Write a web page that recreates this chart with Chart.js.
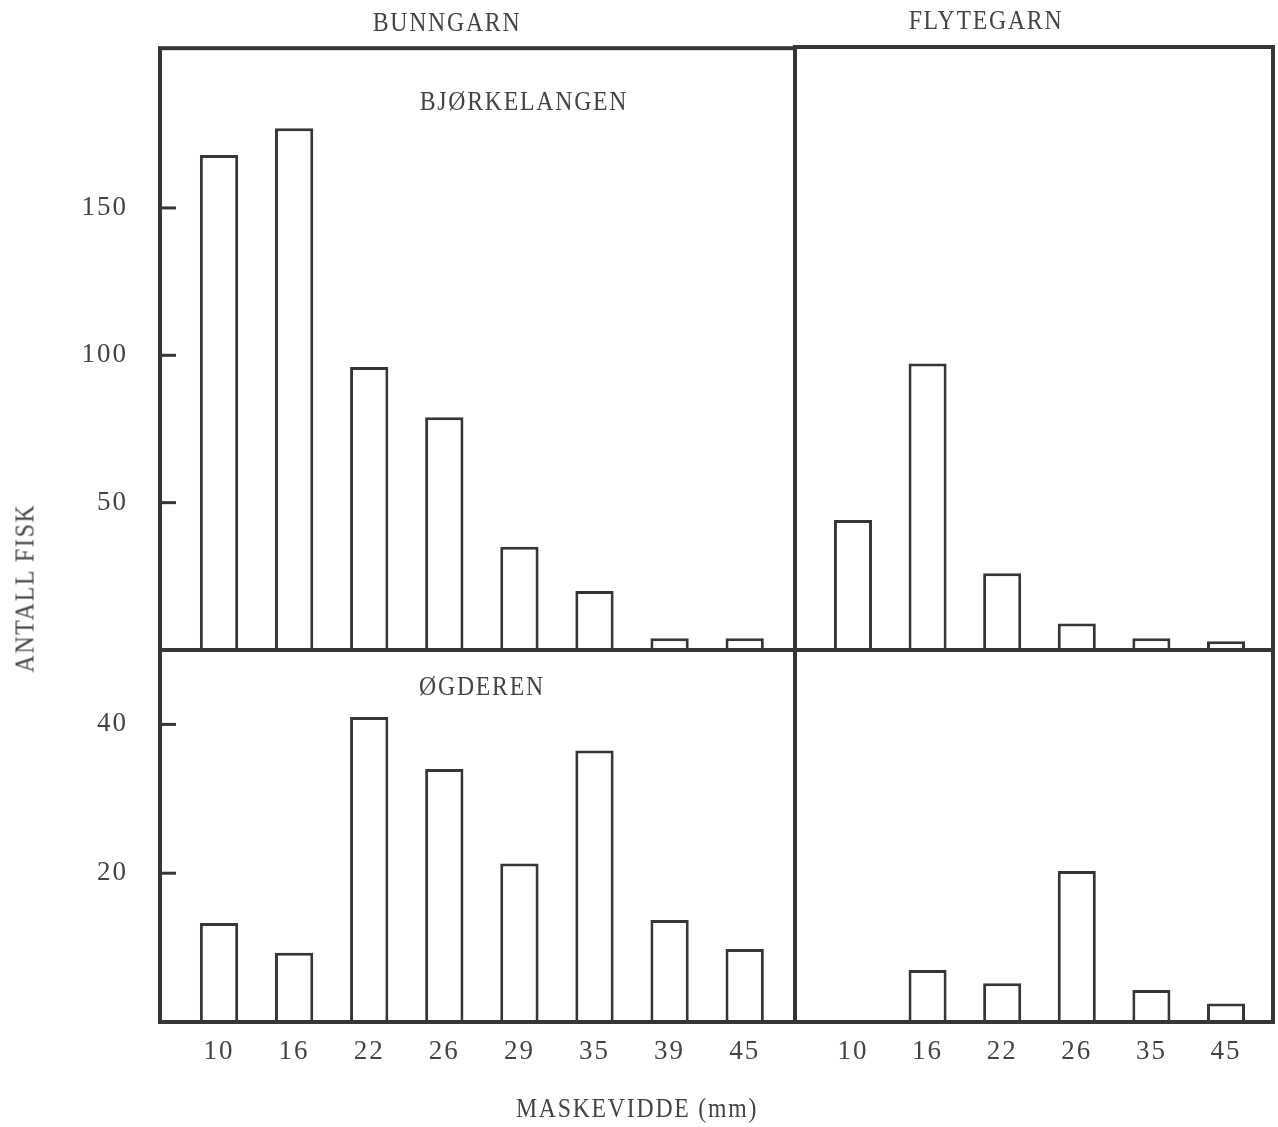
<!DOCTYPE html>
<html>
<head>
<meta charset="utf-8">
<script src="https://cdn.jsdelivr.net/npm/chart.js@4"></script>
<style>
body { margin: 0; background: #fff; }
#wrap { position: relative; width: 1278px; height: 1127px; overflow: hidden; background: #fff; }
canvas { position: absolute; left: 0; top: 0; }
.lbl {
    position: absolute; font-family: "Liberation Serif", serif; font-size: 27px;
    line-height: 1; letter-spacing: 2px; color: #444; white-space: nowrap;
    transform: translateX(-50%) scaleX(0.88);
}
</style>
</head>
<body>
<div id="wrap">
    <canvas id="tl" width="1278" height="1127"></canvas>
    <canvas id="tr" width="1278" height="1127"></canvas>
    <canvas id="bl" width="1278" height="1127"></canvas>
    <canvas id="br" width="1278" height="1127"></canvas>
    <div class="lbl" style="left:447px;top:9px">BUNNGARN</div>
    <div class="lbl" style="left:986px;top:7px">FLYTEGARN</div>
    <div class="lbl" style="left:524px;top:88px">BJØRKELANGEN</div>
    <div class="lbl" style="left:482px;top:673px">ØGDEREN</div>
    <div class="lbl" style="left:637px;top:1095px">MASKEVIDDE (mm)</div>
    <div class="lbl" style="left:25px;top:588px;transform:translate(-50%,-50%) rotate(-90deg) scaleX(0.88)">ANTALL FISK</div>
</div>
<script>
// mesh sizes (mm)
const bunnMesh = ["10", "16", "22", "26", "29", "35", "39", "45"];
const flyteMesh = ["10", "16", "22", "26", "35", "45"];

// number of fish
const bjorkBunn = [168, 177, 96, 79, 35, 20, 4, 4];
const bjorkFlyte = [44, 97, 26, 9, 4, 3];
const ogdBunn = [13.3, 9.3, 41, 34, 21.3, 36.5, 13.7, 9.8];
const ogdFlyte = [0, 7, 5.2, 20.3, 4.3, 2.5];

const topTicks = [50, 100, 150];
const bottomTicks = [20, 40];

const INK = '#363636';
const FONT = { family: 'Liberation Serif', size: 27 };

// frame around each panel + short inward ticks on the left axis
const panelFrame = {
    id: 'panelFrame',
    beforeDraw(chart) { chart.ctx.letterSpacing = '2px'; },
    afterDraw(chart) {
        const { ctx, chartArea: a, scales } = chart;
        ctx.save();
        ctx.strokeStyle = INK;
        ctx.lineWidth = 4;
        ctx.strokeRect(a.left, a.top, a.right - a.left, a.bottom - a.top);
        if (scales.y.options.display) {
            ctx.lineWidth = 3;
            scales.y.ticks.forEach(t => {
                let y = scales.y.getPixelForValue(t.value);
                ctx.beginPath();
                ctx.moveTo(a.left, y);
                ctx.lineTo(a.left + 16, y);
                ctx.stroke();
            });
        }
        ctx.restore();
    }
};

function makePanel(id, cats, values, o) {
    return new Chart(document.getElementById(id), {
        type: 'bar',
        data: {
            datasets: [{
                data: values.map((v, i) => ({ x: i, y: v })),
                backgroundColor: '#fff',
                borderColor: INK,
                borderWidth: 3,
                barPercentage: 0.51,
                categoryPercentage: 1
            }]
        },
        options: {
            responsive: false,
            animation: false,
            layout: { padding: o.pad },
            plugins: { legend: { display: false }, tooltip: { enabled: false } },
            scales: {
                x: {
                    type: 'linear',
                    offset: false,
                    min: o.xmin, max: o.xmax,
                    display: o.showX,
                    grid: { display: false, drawTicks: false },
                    border: { display: false },
                    afterBuildTicks: s => { s.ticks = cats.map((c, i) => ({ value: i })); },
                    afterFit: s => { if (o.showX) s.height = 80; },
                    ticks: { callback: v => cats[v], padding: 14, color: '#444', font: FONT, maxRotation: 0, autoSkip: false }
                },
                y: {
                    min: 0, max: o.ymax,
                    display: o.showY,
                    grid: { display: false, drawTicks: false },
                    border: { display: false },
                    afterBuildTicks: s => { s.ticks = o.yticks.map(v => ({ value: v })); },
                    afterFit: s => { if (o.showY) s.width = 100; },
                    ticks: { padding: 32, color: '#444', font: FONT }
                }
            }
        },
        plugins: [panelFrame]
    });
}

const leftX = { xmin: -0.786, xmax: 7.67 };
const rightX = { xmin: -0.777, xmax: 5.63 };

makePanel('tl', bunnMesh, bjorkBunn, { ...leftX, ymax: 204.2, yticks: topTicks, showX: false, showY: true,
    pad: { left: 60, top: 47, right: 483, bottom: 477 } });
makePanel('tr', flyteMesh, bjorkFlyte, { ...rightX, ymax: 204.2, yticks: topTicks, showX: false, showY: false,
    pad: { left: 795, top: 47, right: 5, bottom: 477 } });
makePanel('bl', bunnMesh, ogdBunn, { ...leftX, ymax: 50, yticks: bottomTicks, showX: true, showY: true,
    pad: { left: 60, top: 650, right: 483, bottom: 25 } });
makePanel('br', flyteMesh, ogdFlyte, { ...rightX, ymax: 50, yticks: bottomTicks, showX: true, showY: false,
    pad: { left: 795, top: 650, right: 5, bottom: 25 } });
</script>
</body>
</html>
